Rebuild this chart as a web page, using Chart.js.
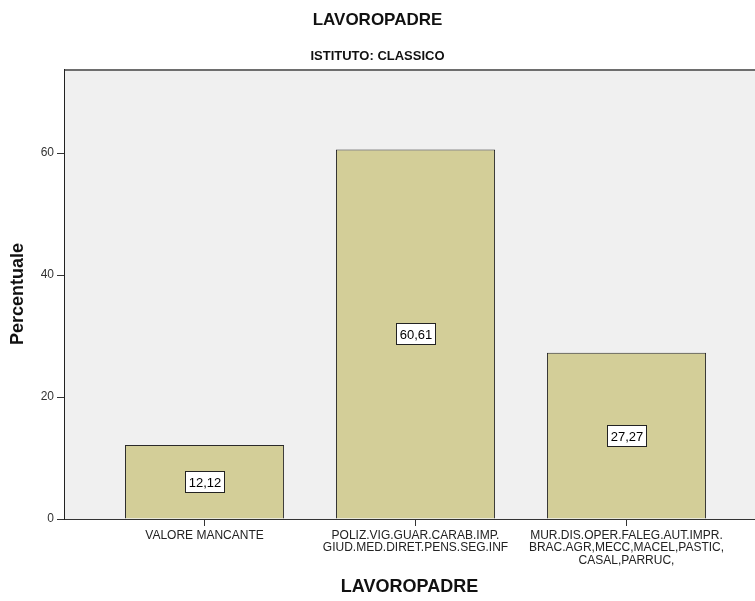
<!DOCTYPE html>
<html>
<head>
<meta charset="utf-8">
<script src="https://cdn.jsdelivr.net/npm/chart.js@4/dist/chart.umd.min.js"></script>
<style>
  html, body { margin: 0; padding: 0; background: #fff; }
  #wrap { width: 755px; height: 601px; }
</style>
</head>
<body>
<div id="wrap"><canvas id="graph"></canvas></div>
<script>
// categories (multi-line labels as in the original)
const categories = [
  ['VALORE MANCANTE'],
  ['POLIZ.VIG.GUAR.CARAB.IMP.', 'GIUD.MED.DIRET.PENS.SEG.INF'],
  ['MUR.DIS.OPER.FALEG.AUT.IMPR.', 'BRAC.AGR,MECC,MACEL,PASTIC,', 'CASAL,PARRUC,']
];
const percentuale = [12.12, 60.61, 27.27];
const yTicks = [0, 20, 40, 60];

const positions = categories.map((c, i) => i + 1);

const SANS = '"Liberation Sans", Arial, sans-serif';

// background + top frame of the plot
const plotFrame = {
  id: 'plotFrame',
  beforeDraw(chart) {
    const { ctx, chartArea: a } = chart;
    ctx.save();
    ctx.fillStyle = '#f0f0f0';
    ctx.fillRect(a.left, a.top, a.right - a.left, a.bottom - a.top);
    ctx.strokeStyle = '#6e6e6e';
    ctx.lineWidth = 2;
    ctx.beginPath();
    ctx.moveTo(a.left, a.top + 1);
    ctx.lineTo(a.right, a.top + 1);
    ctx.stroke();
    ctx.restore();
  }
};

// boxed value labels in the middle of each bar
const valueBoxes = {
  id: 'valueBoxes',
  afterDatasetsDraw(chart) {
    const { ctx } = chart;
    const meta = chart.getDatasetMeta(0);
    ctx.save();
    ctx.font = '13px ' + SANS;
    ctx.textAlign = 'center';
    ctx.textBaseline = 'middle';
    meta.data.forEach((bar, i) => {
      const txt = percentuale[i].toFixed(2).replace('.', ',');
      const cy = Math.round((bar.y + bar.base) / 2);
      const cx = Math.round(bar.x);
      const w = Math.ceil(ctx.measureText(txt).width) + 6;
      const h = 21;
      ctx.fillStyle = '#fff';
      ctx.fillRect(cx - w / 2, cy - h / 2, w, h);
      ctx.strokeStyle = '#222';
      ctx.lineWidth = 1;
      ctx.strokeRect(Math.floor(cx - w / 2) + 0.5, Math.floor(cy - h / 2) + 0.5, w, h);
      ctx.fillStyle = '#000';
      ctx.fillText(txt, cx, cy + 1);
    });
    ctx.restore();
  }
};

Chart.defaults.font.family = SANS;
Chart.defaults.color = '#222';

new Chart(document.getElementById('graph'), {
  type: 'bar',
  data: {
    datasets: [{
      data: positions.map((x, i) => ({ x: x, y: percentuale[i] })),
      backgroundColor: '#d3ce98',
      borderColor: '#2a2a2a',
      borderWidth: 1,
      barPercentage: 0.754,
      categoryPercentage: 1
    }]
  },
  options: {
    responsive: true,
    maintainAspectRatio: false,
    animation: false,
    events: [],
    layout: { padding: 0 },
    plugins: {
      legend: { display: false },
      tooltip: { enabled: false },
      title: {
        display: true,
        text: 'LAVOROPADRE',
        color: '#111',
        font: { size: 17, weight: 'bold', lineHeight: 1 },
        padding: { top: 12, bottom: 12 }
      },
      subtitle: {
        display: true,
        text: 'ISTITUTO: CLASSICO',
        color: '#111',
        font: { size: 13, weight: 'bold', lineHeight: 1 },
        padding: { top: 9, bottom: 6 }
      }
    },
    scales: {
      x: {
        type: 'linear',
        offset: false,
        min: 0.334,
        max: 3.609,
        afterBuildTicks(scale) {
          scale.ticks = positions.map(v => ({ value: v }));
        },
        afterFit(scale) { scale.height = 82; },
        ticks: {
          autoSkip: false,
          maxRotation: 0,
          padding: 3,
          color: '#222',
          font: { size: 12, lineHeight: 1.05 },
          callback: (v) => categories[v - 1] || ''
        },
        grid: { offset: false, drawOnChartArea: false, drawTicks: true, tickLength: 7, color: '#333' },
        border: { display: true, color: '#333', width: 1 },
        title: {
          display: true,
          text: 'LAVOROPADRE',
          color: '#111',
          font: { size: 18, weight: 'bold', lineHeight: 1 },
          padding: { top: 0, bottom: 5 }
        }
      },
      y: {
        min: 0,
        max: 73.8,
        afterBuildTicks(scale) {
          scale.ticks = yTicks.map(v => ({ value: v }));
        },
        afterFit(scale) { scale.width = 64; },
        ticks: { padding: 3, color: '#333', font: { size: 12 } },
        grid: { drawOnChartArea: false, drawTicks: true, tickLength: 7, color: '#333' },
        border: { display: true, color: '#222', width: 1 },
        title: {
          display: true,
          text: 'Percentuale',
          color: '#111',
          font: { size: 18, weight: 'bold', lineHeight: 1 },
          padding: { top: 9, bottom: 0 }
        }
      }
    }
  },
  plugins: [plotFrame, valueBoxes]
});
</script>
</body>
</html>
